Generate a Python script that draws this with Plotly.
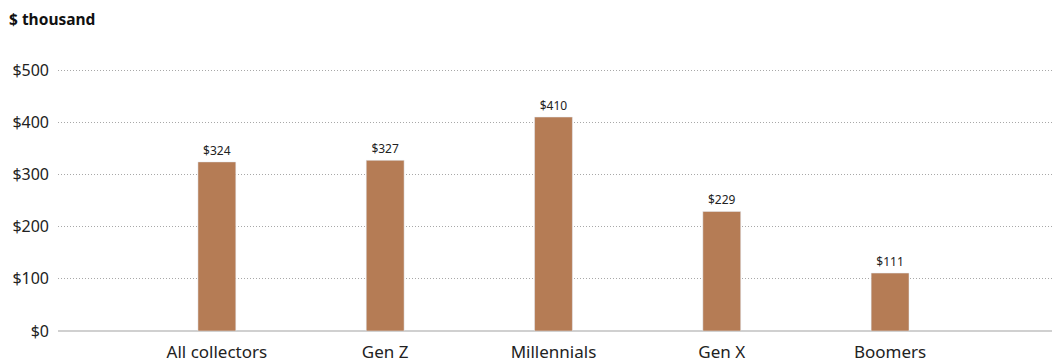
import plotly.graph_objects as go

categories = ["All collectors", "Gen Z", "Millennials", "Gen X", "Boomers"]
values = [324, 327, 410, 229, 111]
tick_vals = [0, 100, 200, 300, 400, 500]
tick_text = ["$0", "$100", "$200", "$300", "$400", "$500"]

fig = go.Figure(go.Bar(
    x=categories, y=values,
    marker_color="#b57c55", width=0.225,
    text=[f"${v}" for v in values], textposition="outside",
    textfont=dict(size=12, color="#222"), cliponaxis=False,
))
fig.update_layout(
    width=1052, height=355,
    margin=dict(l=50, r=5, t=61, b=32, autoexpand=False),
    plot_bgcolor="white", paper_bgcolor="white",
    font=dict(family="Noto Sans", size=16, color="#222"),
    showlegend=False,
    annotations=[dict(text="<b>$ thousand</b>", x=0, y=1, xref="paper", yref="paper",
                      xanchor="left", yanchor="top", xshift=-51, yshift=63,
                      showarrow=False, font=dict(size=15.5, color="#111"))],
)
fig.update_xaxes(range=[-0.944, 4.98], showgrid=False, showline=False, ticks="",
                 tickfont=dict(size=17), automargin=False, ticklabelstandoff=9)
fig.update_yaxes(range=[0, 502], tickvals=tick_vals, ticktext=tick_text,
                 showgrid=True, gridcolor="#a8a8a8", griddash="1px,2px", gridwidth=1,
                 zeroline=True, zerolinecolor="#d0d0d0", zerolinewidth=2,
                 ticks="", ticklabelstandoff=8, tickfont=dict(size=16), automargin=False)
fig.write_html("out.html")
